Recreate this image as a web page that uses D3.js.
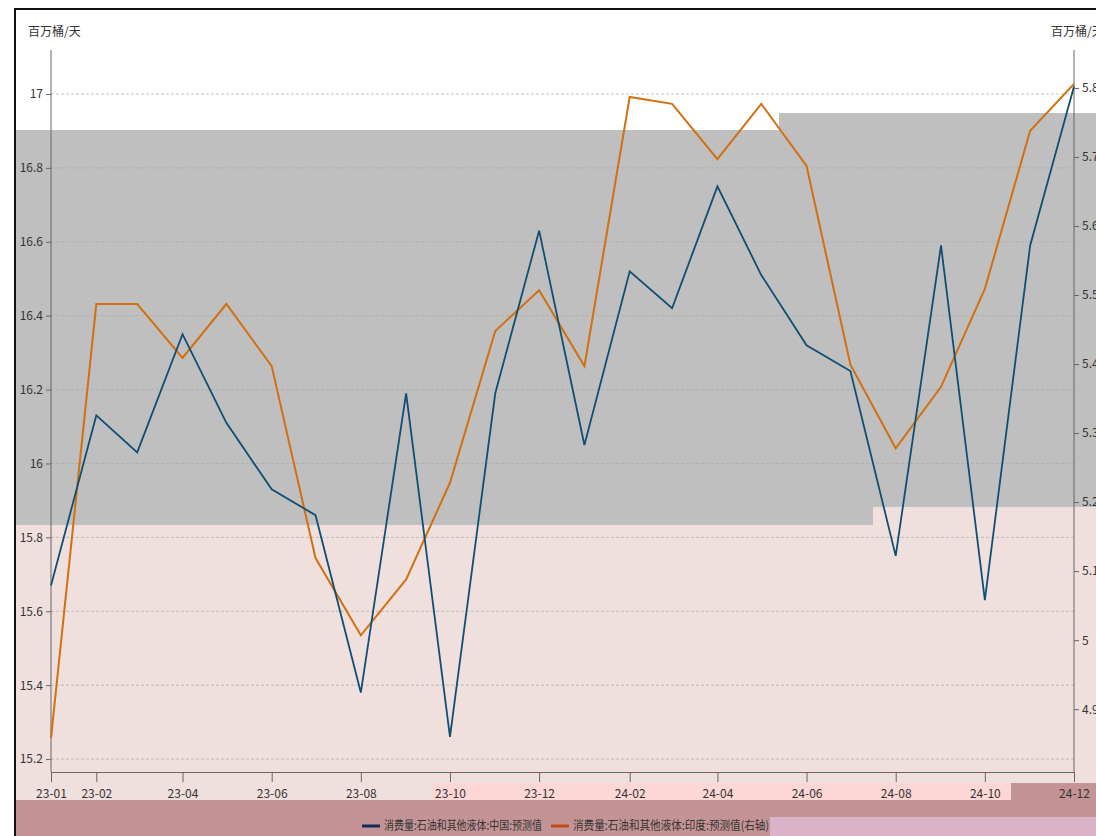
<!DOCTYPE html>
<html>
<head>
<meta charset="utf-8">
<script src="https://cdn.jsdelivr.net/npm/d3@7"></script>
<style>
  body { margin: 0; background: #fff; }
  svg { display: block; font-family: "Noto Sans CJK SC", "Noto Sans", sans-serif; }
</style>
</head>
<body>
<div id="chart"></div>
<script>
// months 23-01 .. 24-12
const months = ["2023-01", "2023-02", "2023-03", "2023-04", "2023-05", "2023-06", "2023-07", "2023-08",
    "2023-09", "2023-10", "2023-11", "2023-12", "2024-01", "2024-02", "2024-03", "2024-04",
    "2024-05", "2024-06", "2024-07", "2024-08", "2024-09", "2024-10", "2024-11", "2024-12"];
const chinaValues = [15.67, 16.13, 16.03, 16.35, 16.11, 15.93, 15.86, 15.38, 16.19, 15.26, 16.19, 16.63,
    16.05, 16.52, 16.42, 16.75, 16.51, 16.32, 16.25, 15.75, 16.59, 15.63, 16.59, 17.02];
const indiaValues = [4.858, 5.487, 5.487, 5.409, 5.487, 5.397, 5.119, 5.007, 5.088, 5.228, 5.448, 5.507,
    5.397, 5.787, 5.777, 5.697, 5.777, 5.687, 5.399, 5.278, 5.367, 5.509, 5.738, 5.806];
const leftTicks = [15.2, 15.4, 15.6, 15.8, 16, 16.2, 16.4, 16.6, 16.8, 17];
const rightTicks = [4.9, 5, 5.1, 5.2, 5.3, 5.4, 5.5, 5.6, 5.7, 5.8];
const xTickLabels = ["23-01", "23-02", "23-04", "23-06", "23-08", "23-10", "23-12", "24-02", "24-04", "24-06", "24-08", "24-10", "24-12"];
const seriesNames = ["消费量:石油和其他液体:中国:预测值", "消费量:石油和其他液体:印度:预测值(右轴)"];

const W = 1096, H = 836;
const plotLeft = 51, plotRight = 1074, plotTop = 50, plotBottom = 772;

const parse = d3.timeParse("%Y-%m");
const dates = months.map(parse);

const svg = d3.select("#chart").append("svg")
    .attr("width", W)
    .attr("height", H);

// background blocks
svg.append("rect").attr("x", 14).attr("y", 9).attr("width", W).attr("height", H).attr("fill", "#fff");
svg.append("rect").attr("x", 14).attr("y", 507).attr("width", W).attr("height", 295).attr("fill", "#efe0dd");
svg.append("rect").attr("x", 14).attr("y", 130).attr("width", 859).attr("height", 395).attr("fill", "#bfbfbf");
svg.append("rect").attr("x", 779).attr("y", 113).attr("width", 320).attr("height", 394).attr("fill", "#bfbfbf");
svg.append("rect").attr("x", 432).attr("y", 783).attr("width", 580).attr("height", 18).attr("fill", "#fdd6d6");
svg.append("rect").attr("x", 1011).attr("y", 783).attr("width", 90).attr("height", 18).attr("fill", "#c49396");
svg.append("rect").attr("x", 14).attr("y", 800).attr("width", W).attr("height", 36).attr("fill", "#c49396");
svg.append("rect").attr("x", 770).attr("y", 817).attr("width", 330).attr("height", 20).attr("fill", "#dbb3c8");

// border
svg.append("path")
    .attr("d", "M15," + H + "V9H" + W)
    .attr("fill", "none")
    .attr("stroke", "#111")
    .attr("stroke-width", 2);

const x = d3.scaleTime()
    .domain([dates[0], dates[dates.length - 1]])
    .range([plotLeft, plotRight]);
const yL = d3.scaleLinear()
    .domain([15.165, 17.119])
    .range([plotBottom, plotTop]);
const yR = d3.scaleLinear()
    .domain([4.809, 5.855])
    .range([plotBottom, plotTop]);

// grid
svg.append("g")
    .selectAll("line")
    .data(leftTicks)
    .enter()
    .append("line")
    .attr("x1", plotLeft)
    .attr("x2", plotRight)
    .attr("y1", d => yL(d))
    .attr("y2", d => yL(d))
    .attr("stroke", "#aaa")
    .attr("stroke-opacity", 0.7)
    .attr("stroke-dasharray", "3,2");

const axisColor = "#666";

const gL = svg.append("g")
    .attr("transform", "translate(" + plotLeft + ",0)")
    .call(d3.axisLeft(yL).tickValues(leftTicks).tickSize(5).tickSizeOuter(0).tickFormat(d3.format("")));
const gR = svg.append("g")
    .attr("transform", "translate(" + plotRight + ",0)")
    .call(d3.axisRight(yR).tickValues(rightTicks).tickSize(5).tickSizeOuter(0).tickFormat(d3.format("")));

const xTickDates = xTickLabels.map(s => parse("20" + s));
const gX = svg.append("g")
    .attr("transform", "translate(0," + plotBottom + ")")
    .call(d3.axisBottom(x).tickValues(xTickDates).tickSize(10).tickSizeOuter(0).tickFormat(d3.timeFormat("%y-%m")));

[gL, gR, gX].forEach(g => {
    g.select(".domain").attr("stroke", axisColor);
    g.selectAll(".tick line").attr("stroke", axisColor);
    g.selectAll("text").attr("fill", "#333").style("font-size", "12px").style("font-family", "'Noto Sans CJK SC', sans-serif");
});
gL.select(".domain").attr("d", "M0," + plotTop + "V" + plotBottom);
gR.select(".domain").attr("d", "M0," + plotTop + "V" + plotBottom);
gX.selectAll("text").attr("dy", "1.05em");

// units
svg.append("text").attr("x", 28).attr("y", 36).attr("font-size", 12).attr("fill", "#333").text("百万桶/天");
svg.append("text").attr("x", 1051).attr("y", 36).attr("font-size", 12).attr("fill", "#333").text("百万桶/天");

// lines
const lineL = d3.line().x((d, i) => x(dates[i])).y(d => yL(d));
const lineR = d3.line().x((d, i) => x(dates[i])).y(d => yR(d));

svg.append("path")
    .datum(indiaValues)
    .attr("d", lineR)
    .attr("fill", "none")
    .attr("stroke", "#d2700f")
    .attr("stroke-width", 2);

svg.append("path")
    .datum(chinaValues)
    .attr("d", lineL)
    .attr("fill", "none")
    .attr("stroke", "#0f4f74")
    .attr("stroke-width", 1.8);

// legend
const legend = svg.append("g").attr("transform", "translate(0,826)");
const legendColors = ["#0d2f57", "#c24a12"];
const legendX = [362, 551];
const legendW = [158, 196];
seriesNames.forEach((name, i) => {
    legend.append("line")
        .attr("x1", legendX[i]).attr("x2", legendX[i] + 18)
        .attr("y1", 0).attr("y2", 0)
        .attr("stroke", legendColors[i])
        .attr("stroke-width", 3);
    legend.append("text")
        .attr("x", legendX[i] + 22)
        .attr("y", 4)
        .attr("font-size", 12)
        .attr("fill", "#333")
        .attr("textLength", legendW[i])
        .attr("lengthAdjust", "spacingAndGlyphs")
        .text(name);
});
</script>
</body>
</html>
